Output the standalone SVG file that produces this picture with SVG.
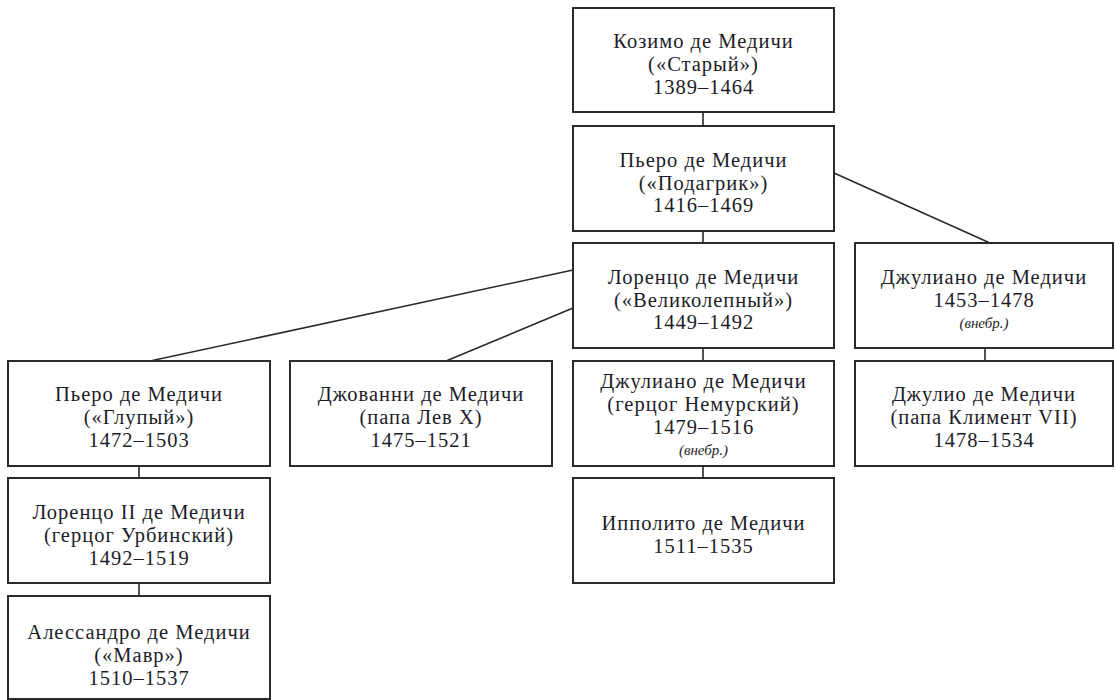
<svg xmlns="http://www.w3.org/2000/svg" width="1115" height="700" viewBox="0 0 1115 700">
<style>
.box{fill:#fff;stroke:#2a2a2a;stroke-width:2}
.t{font-size:20.5px;letter-spacing:1px;fill:#1c1c28;text-anchor:middle}
.i{font-size:15px;font-style:italic;fill:#1c1c28;text-anchor:middle}
.c line{stroke:#2a2a2a;stroke-width:1.6}
</style>
<rect width="1115" height="700" fill="#fff"/>
<g class="c" id="connectors">
<line x1="703" y1="112" x2="703" y2="126"/>
<line x1="703" y1="231" x2="703" y2="243"/>
<line x1="834" y1="173" x2="990" y2="243"/>
<line x1="573" y1="270" x2="150" y2="361"/>
<line x1="573" y1="308" x2="446" y2="361"/>
<line x1="703" y1="348" x2="703" y2="361"/>
<line x1="985" y1="348" x2="985" y2="361"/>
<line x1="139" y1="466" x2="139" y2="478"/>
<line x1="703" y1="466" x2="703" y2="478"/>
<line x1="139" y1="583" x2="139" y2="596"/>
</g>
<g font-family="Liberation Serif, DejaVu Serif, serif">
<g id="cosimo"><rect class="box" x="573" y="8" width="261" height="104"/>
<text class="t" x="703.5" y="48">Козимо де Медичи</text><text class="t" x="703.5" y="71">(«Старый»)</text><text class="t" x="703.5" y="94">1389–1464</text></g>
<g id="piero1"><rect class="box" x="573" y="126" width="261" height="105"/>
<text class="t" x="703.5" y="167">Пьеро де Медичи</text><text class="t" x="703.5" y="190">(«Подагрик»)</text><text class="t" x="703.5" y="212">1416–1469</text></g>
<g id="lorenzo"><rect class="box" x="573" y="243" width="261" height="105"/>
<text class="t" x="703.5" y="284">Лоренцо де Медичи</text><text class="t" x="703.5" y="307">(«Великолепный»)</text><text class="t" x="703.5" y="329">1449–1492</text></g>
<g id="giuliano1"><rect class="box" x="855" y="243" width="258" height="105"/>
<text class="t" x="984" y="284">Джулиано де Медичи</text><text class="t" x="984" y="307">1453–1478</text><text class="i" x="984" y="328">(внебр.)</text></g>
<g id="piero2"><rect class="box" x="8" y="361" width="262" height="105"/>
<text class="t" x="139" y="401">Пьеро де Медичи</text><text class="t" x="139" y="424">(«Глупый»)</text><text class="t" x="139" y="447">1472–1503</text></g>
<g id="giovanni"><rect class="box" x="290" y="361" width="262" height="105"/>
<text class="t" x="421" y="401">Джованни де Медичи</text><text class="t" x="421" y="424">(папа Лев X)</text><text class="t" x="421" y="447">1475–1521</text></g>
<g id="giuliano2"><rect class="box" x="573" y="361" width="261" height="105"/>
<text class="t" x="703.5" y="388">Джулиано де Медичи</text><text class="t" x="703.5" y="411">(герцог Немурский)</text><text class="t" x="703.5" y="434">1479–1516</text><text class="i" x="703.5" y="455">(внебр.)</text></g>
<g id="giulio"><rect class="box" x="855" y="361" width="258" height="105"/>
<text class="t" x="984" y="401">Джулио де Медичи</text><text class="t" x="984" y="424">(папа Климент VII)</text><text class="t" x="984" y="447">1478–1534</text></g>
<g id="lorenzo2"><rect class="box" x="8" y="478" width="262" height="105"/>
<text class="t" x="139" y="519">Лоренцо II де Медичи</text><text class="t" x="139" y="542">(герцог Урбинский)</text><text class="t" x="139" y="565">1492–1519</text></g>
<g id="ippolito"><rect class="box" x="573" y="478" width="261" height="105"/>
<text class="t" x="703.5" y="530">Ипполито де Медичи</text><text class="t" x="703.5" y="553">1511–1535</text></g>
<g id="alessandro"><rect class="box" x="8" y="596" width="262" height="103"/>
<text class="t" x="139" y="639">Алессандро де Медичи</text><text class="t" x="139" y="662">(«Мавр»)</text><text class="t" x="139" y="685">1510–1537</text></g>
</g>
</svg>
